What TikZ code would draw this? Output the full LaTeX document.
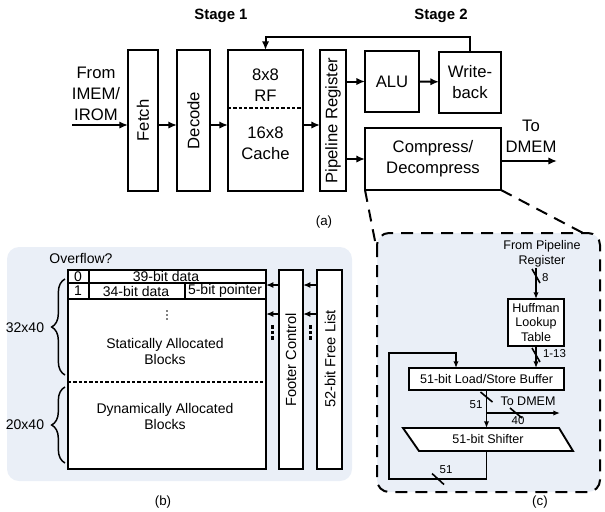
\documentclass[tikz,border=0pt]{standalone}
\usepackage{fontspec}
\setmainfont{Liberation Sans}
\usetikzlibrary{arrows.meta,decorations.pathreplacing,calc}
\newdimen\pxu
\pxu=0.75pt
\definecolor{panelbg}{RGB}{234,239,247}
\begin{document}
\begin{tikzpicture}[x=0.75pt,y=-0.75pt,
  every node/.style={inner sep=0pt, outer sep=0pt, align=center},
  big/.style={font=\fontsize{12.5}{15.5}\selectfont},
  mid/.style={font=\fontsize{10.5}{12}\selectfont},
  rowf/.style={font=\fontsize{10.5}{12}\selectfont},
  sml/.style={font=\fontsize{9.4}{11}\selectfont},
  tiny/.style={font=\fontsize{8.6}{10}\selectfont},
  caplbl/.style={font=\fontsize{10}{12}\selectfont},
  ablk/.style={draw, line width=1.5pt, fill=white, big},
  bblk/.style={draw, line width=1.1pt, fill=white, mid},
  cblk/.style={draw, line width=1.4pt, fill=white, sml},
  aarr/.style={-{Latex[length=6.5pt,width=5.5pt]}, line width=1.5pt},
  barr/.style={-{Latex[length=5.5pt,width=4.5pt]}, line width=1.2pt},
  carr/.style={-{Latex[length=5pt,width=4pt]}, line width=1.2pt},
  bus/.style={line width=1.2pt},
  proj/.style={line width=1.5pt, dash pattern=on 9pt off 6pt},
  fine/.style={line width=1.3pt, dash pattern=on 2.5pt off 1.5pt},
]
\useasboundingbox (0,0) rectangle (605,511);

% ===================== (a) two-stage pipeline =====================
\node[font=\bfseries\fontsize{11.2}{13}\selectfont] (st1) at (221,16) {Stage 1};
\node[font=\bfseries\fontsize{11.2}{13}\selectfont] (st2) at (441,16) {Stage 2};

\node[ablk, minimum width=30\pxu, minimum height=141\pxu] (fetch) at (143,120.5) {};
\node[big, rotate=90] (fetchT) at (fetch) {Fetch};
\node[ablk, minimum width=33\pxu, minimum height=141\pxu] (decode) at (193.5,120.5) {};
\node[big, rotate=90] (decodeT) at (decode) {Decode};
\node[ablk, minimum width=75\pxu, minimum height=141\pxu] (rf) at (265.5,120.5) {};
\draw[fine] ($(rf.west)+(0,-12.5)$) -- ($(rf.east)+(0,-12.5)$);
\node[big] (rfT) at (265.5,85) {8x8\\RF};
\node[big] (cacheT) at (265.5,143.5) {16x8\\Cache};
\node[ablk, minimum width=26\pxu, minimum height=141\pxu] (preg) at (333,120.5) {};
\node[big, rotate=90] (pregT) at (preg) {Pipeline Register};
\node[ablk, minimum width=54\pxu, minimum height=61\pxu] (alu) at (392,81.5) {ALU};
\node[ablk, minimum width=62\pxu, minimum height=61\pxu] (wb) at (470,82) {Write-\\back};
\node[ablk, minimum width=136\pxu, minimum height=62\pxu] (comp) at (433,159) {Compress/\\Decompress};

\node[big] (from) at (96,94) {From\\IMEM/\\IROM};
\coordinate (imem) at (72,125);
\coordinate (mainrow) at (0,125);
\draw[aarr] (imem) -- (imem -| fetch.west);
\draw[aarr] (fetch.east |- mainrow) -- (decode.west |- mainrow);
\draw[aarr] (decode.east |- mainrow) -- (rf.west |- mainrow);
\draw[aarr] (rf.east |- mainrow) -- (preg.west |- mainrow);
\draw[aarr] (preg.east |- alu.west) -- (alu.west);
\draw[aarr] (alu) -- (wb);
\draw[aarr] (preg.east |- comp.west) -- (comp.west);
\draw[aarr] (wb.north) -- ++(0,-15) -| (rf.north);
\coordinate (dmemA) at (557,161);
\draw[aarr] (comp.east |- dmemA) -- (dmemA);
\node[big] (todmem) at (531,136.5) {To\\DMEM};

\node[caplbl] (capA) at (324,222) {(a)};

% ===================== (b) memory organisation =====================
\fill[panelbg, rounded corners=9pt] (7,247) rectangle (352,481);
\node[mid] (ovf) at (81,258) {Overflow?};

\node[bblk, minimum width=198\pxu, minimum height=199\pxu] (mem) at (167,369.5) {};
\draw[line width=1.1pt] (68,283) -- (266,283);
\draw[line width=1.1pt] (68,299) -- (266,299);
\draw[line width=1.1pt] (89,270) -- (89,299);
\draw[line width=1.1pt] (185,283) -- (185,299);
\node[rowf] (r0a) at (78,276.5) {0};
\node[rowf] (r0b) at (166,276.5) {39-bit data};
\node[rowf] (r1a) at (78,291) {1};
\node[rowf] (r1b) at (136,291) {34-bit data};
\node[rowf] (r1c) at (225,291) {5-bit pointer};
% vertical ellipsis between the first rows and the block label
\foreach \y in {311,315,319}
  \fill (167,\y) circle (0.8);
\node[mid] (stat) at (165,351) {Statically Allocated\\Blocks};
\draw[fine, line width=1.1pt] (68,382) -- (266,382);
\node[mid] (dyn) at (165,416) {Dynamically Allocated\\Blocks};

\node[bblk, minimum width=24\pxu, minimum height=199\pxu] (footer) at (291,369.5) {};
\node[font=\fontsize{11}{13}\selectfont, rotate=90] (footerT) at (291,360) {Footer Control};
\node[bblk, minimum width=25\pxu, minimum height=199\pxu] (free) at (329.5,369.5) {};
\node[font=\fontsize{11}{13}\selectfont, rotate=90] (freeT) at (330,359) {52-bit Free List};

\coordinate (rowA) at (0,285);
\coordinate (rowB) at (0,314);
\draw[barr] (footer.west |- rowA) -- (mem.east |- rowA);
\draw[barr] (free.west |- rowA) -- (footer.east |- rowA);
\draw[barr] (footer.west |- rowB) -- (mem.east |- rowB);
\draw[barr] (free.west |- rowB) -- (footer.east |- rowB);
\foreach \x in {272.5,310.5}
  \foreach \y in {327,332.5,338}
    \fill (\x-1.6,\y-1.6) rectangle ++(3.2,3.2);

\draw[line width=1.1pt, decorate, decoration={brace, amplitude=10pt}] (65,375) -- (65,279);
\draw[line width=1.1pt, decorate, decoration={brace, amplitude=10pt}] (65,463) -- (65,387);
\node[mid] (b32) at (25,328) {32x40};
\node[mid] (b20) at (25,425) {20x40};

\node[caplbl] (capB) at (163,502) {(b)};

% ===================== (c) compression unit =====================
\coordinate (cTL) at (376,246);
\coordinate (cTR) at (583,233);
\draw[proj] (comp.south west) -- (cTL);
\draw[proj] (comp.south east) -- (cTR);
\draw[proj, fill=panelbg, rounded corners=9pt] (377,233) rectangle (600,492);

\node[sml] (fpr) at (542,253.5) {From Pipeline\\Register};
\node[cblk, minimum width=56\pxu, minimum height=47\pxu] (huff) at (536,322.5) {Huffman\\Lookup\\Table};
\coordinate (huffIn) at (536,268);
\draw[carr] (huffIn) -- (huff.north);
\node[cblk, minimum width=155\pxu, minimum height=22\pxu] (buf) at (486.5,379) {51-bit Load/Store Buffer};
\draw[carr] (huff.south) -- (huff.south |- buf.north);

\draw[line width=1.4pt, fill=white] (403,428) -- (559,428) -- (573,451) -- (419,451) -- cycle;
\node[sml] (shifter) at (488,439.5) {51-bit Shifter};
\coordinate (shTop) at (486.5,428);
\coordinate (shBot) at (486.5,451);
\draw[carr] (buf.south) -- (shTop);

\coordinate (brch) at (486.5,413);
\coordinate (cdmem) at (560,413);
\draw[carr] (brch) -- (cdmem);
\node[sml] (ctod) at (528,401) {To DMEM};

\coordinate (loopL) at (389,479);
\coordinate (loopT) at (456,353);
\draw[carr] (shBot) |- (loopL) |- (loopT) -- (loopT |- buf.north);

% bus-width marks
\draw[bus] (536,276) ++(-4,-7) -- ++(8,14);
\node[tiny, anchor=west] (w8) at (542,278) {8};
\draw[bus] (536,355) ++(-4,-7) -- ++(8,14);
\node[tiny, anchor=west] (w113) at (543,354) {1-13};
\draw[bus] (486.5,397) ++(-6,-5) -- ++(12,10);
\node[tiny] (w51a) at (476,405) {51};
\draw[bus] (516,413) ++(-6,-5) -- ++(12,10);
\node[tiny] (w40) at (518,420.5) {40};
\draw[bus] (438,479) ++(-6,-5.5) -- ++(12,11);
\node[tiny] (w51b) at (446,470) {51};

\node[caplbl] (capC) at (540,502.5) {(c)};
\end{tikzpicture}
\end{document}
